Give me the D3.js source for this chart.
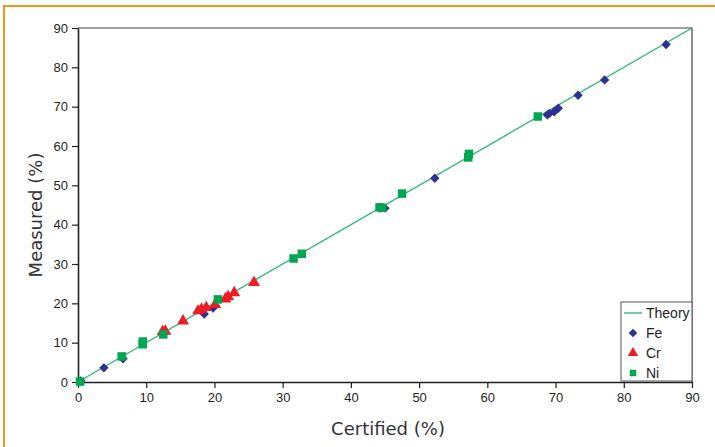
<!DOCTYPE html>
<html>
<head>
<meta charset="utf-8">
<script src="https://cdn.jsdelivr.net/npm/d3@7"></script>
<style>
  html, body { margin: 0; padding: 0; background: #fff; }
  svg { display: block; }
</style>
</head>
<body>
<svg id="chart" width="715" height="447"></svg>
<script>
// Axis ticks
const xTicks = [0, 10, 20, 30, 40, 50, 60, 70, 80, 90];
const yTicks = [0, 10, 20, 30, 40, 50, 60, 70, 80, 90];

// Theory line: measured = certified
const theory = [[0, 0], [90, 90]];

// Fe: [certified, measured]
const fe = [
  [0.4, 0.3], [3.8, 3.6], [6.6, 5.9], [18.5, 17.3], [19.8, 18.8],
  [44.3, 44.2], [45.0, 44.2], [52.3, 51.8], [68.8, 67.9], [69.1, 68.3],
  [69.8, 68.7], [70.4, 69.6], [73.3, 72.9], [77.2, 76.8], [86.2, 85.8]
];

// Cr: [certified, measured]
const cr = [
  [12.4, 12.8], [12.8, 12.9], [15.4, 15.5], [17.6, 18.1], [18.1, 18.5],
  [18.8, 18.9], [20.1, 19.7], [21.6, 21.1], [22.0, 21.7], [22.9, 22.7],
  [25.8, 25.3]
];

// Ni: [certified, measured]
const ni = [
  [0.3, 0.1], [6.4, 6.5], [9.5, 9.6], [9.5, 10.3], [12.5, 12.1],
  [20.5, 21.0], [31.6, 31.4], [32.8, 32.6], [44.2, 44.4], [44.6, 44.3],
  [47.5, 47.9], [57.2, 57.1], [57.3, 58.0], [67.4, 67.5]
];

const legendLabels = ["Theory", "Fe", "Cr", "Ni"];

const colors = { theory: "#2bb673", fe: "#2e3192", cr: "#ed1c24", ni: "#00a651" };
const axisColor = "#231f20";

const svg = d3.select("#chart");

// Outer frame
svg.append("rect")
  .attr("x", 4).attr("y", 6)
  .attr("width", 900).attr("height", 900)
  .attr("fill", "none")
  .attr("stroke", "#f7941d")
  .attr("stroke-width", 2);

const mLeft = 78, mRight = 692, mTop = 28, mBottom = 382;

const x = d3.scaleLinear().domain([0, 90]).range([mLeft, mRight]);
const y = d3.scaleLinear().domain([0, 90]).range([mBottom, mTop]);

// Plot box (top and right edges)
svg.append("path")
  .attr("d", `M${mLeft},${mTop}H${mRight}V${mBottom}`)
  .attr("fill", "none")
  .attr("stroke", "#444")
  .attr("stroke-width", 1.2);

const xAxis = svg.append("g")
  .attr("transform", `translate(0,${mBottom})`)
  .call(d3.axisBottom(x).tickValues(xTicks).tickSize(6).tickPadding(5).tickSizeOuter(0));
const yAxis = svg.append("g")
  .attr("transform", `translate(${mLeft},0)`)
  .call(d3.axisLeft(y).tickValues(yTicks).tickSize(6).tickPadding(4).tickSizeOuter(0));

[xAxis, yAxis].forEach(g => {
  g.select(".domain").attr("stroke", axisColor).attr("stroke-width", 1.6);
  g.selectAll(".tick line").attr("stroke", axisColor).attr("stroke-width", 1.2);
  g.selectAll(".tick text")
    .attr("fill", axisColor)
    .style("font-family", "'Liberation Sans', Arial, sans-serif")
    .style("font-size", "13px");
});

// Axis titles
svg.append("text")
  .attr("x", 388).attr("y", 435)
  .attr("text-anchor", "middle")
  .attr("fill", "#333")
  .style("font-family", "'DejaVu Sans', Verdana, sans-serif")
  .style("font-size", "18px")
  .text("Certified (%)");

svg.append("text")
  .attr("transform", `translate(42,${(mTop + mBottom) / 2 + 10}) rotate(-90)`)
  .attr("text-anchor", "middle")
  .attr("fill", "#333")
  .style("font-family", "'DejaVu Sans', Verdana, sans-serif")
  .style("font-size", "18px")
  .text("Measured (%)");

// Theory line
const line = d3.line().x(d => x(d[0])).y(d => y(d[1]));
svg.append("path")
  .datum(theory)
  .attr("d", line)
  .attr("fill", "none")
  .attr("stroke", colors.theory)
  .attr("stroke-width", 1.3);

const diamond = d3.symbol().type(d3.symbolSquare).size(44)();
const triangle = d3.symbol().type(d3.symbolTriangle).size(62)();
const square = d3.symbol().type(d3.symbolSquare).size(72)();

// Fe markers
svg.append("g").selectAll("path").data(fe).join("path")
  .attr("d", diamond)
  .attr("transform", d => `translate(${x(d[0])},${y(d[1])}) rotate(45)`)
  .attr("fill", colors.fe);

// Cr markers
svg.append("g").selectAll("path").data(cr).join("path")
  .attr("d", triangle)
  .attr("transform", d => `translate(${x(d[0])},${y(d[1])})`)
  .attr("fill", colors.cr);

// Ni markers
svg.append("g").selectAll("path").data(ni).join("path")
  .attr("d", square)
  .attr("transform", d => `translate(${x(d[0])},${y(d[1])})`)
  .attr("fill", colors.ni);

// Legend
const lg = svg.append("g").attr("transform", "translate(621,302)");
lg.append("rect")
  .attr("width", 71).attr("height", 79)
  .attr("fill", "#fff")
  .attr("stroke", "#555")
  .attr("stroke-width", 1);

const rowY = [11, 31, 51, 71];
lg.append("line")
  .attr("x1", 3).attr("x2", 21)
  .attr("y1", rowY[0]).attr("y2", rowY[0])
  .attr("stroke", colors.theory).attr("stroke-width", 1.3);
lg.append("path").attr("d", d3.symbol().type(d3.symbolSquare).size(36)())
  .attr("transform", `translate(12,${rowY[1]}) rotate(45)`).attr("fill", colors.fe);
lg.append("path").attr("d", d3.symbol().type(d3.symbolTriangle).size(48)())
  .attr("transform", `translate(12,${rowY[2]})`).attr("fill", colors.cr);
lg.append("path").attr("d", d3.symbol().type(d3.symbolSquare).size(42)())
  .attr("transform", `translate(12,${rowY[3]})`).attr("fill", colors.ni);

lg.selectAll("text.lab").data(legendLabels).join("text")
  .attr("class", "lab")
  .attr("x", 25)
  .attr("y", (d, i) => rowY[i])
  .attr("dy", "0.35em")
  .attr("fill", axisColor)
  .style("font-family", "'Liberation Sans', Arial, sans-serif")
  .style("font-size", "14px")
  .text(d => d);
</script>
</body>
</html>
